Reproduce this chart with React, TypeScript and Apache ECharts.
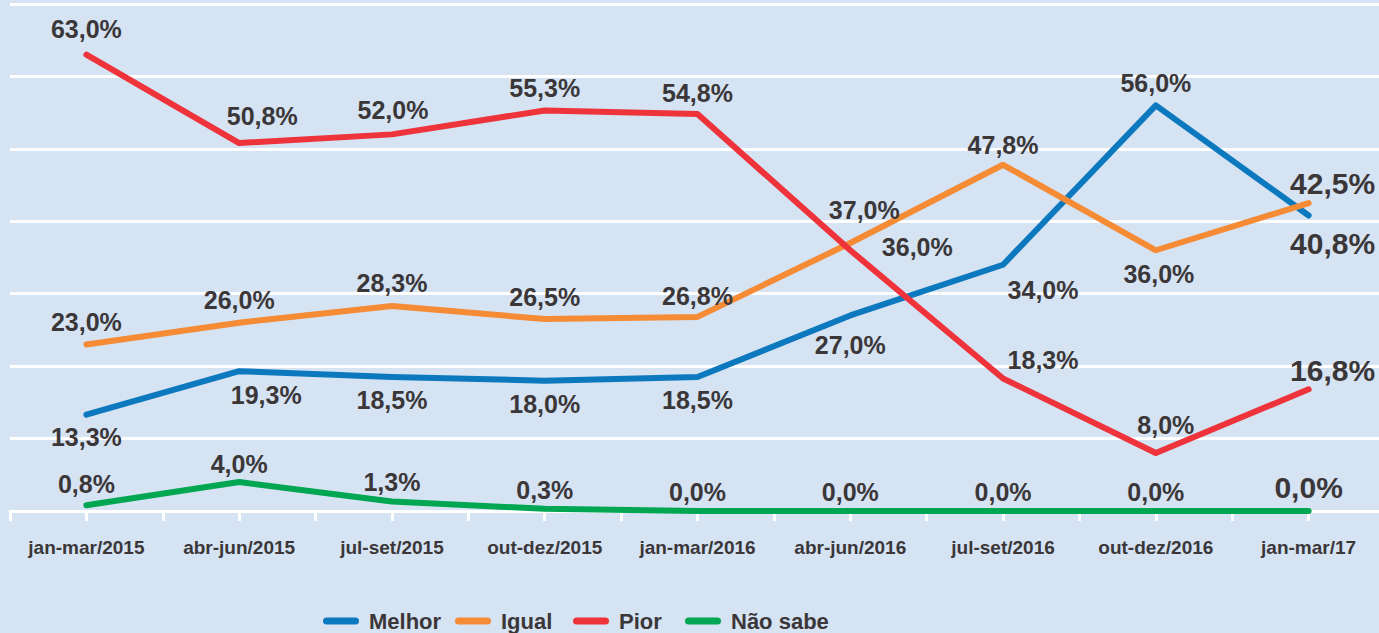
import React, { useEffect, useRef } from "react";
import * as echarts from "echarts";

const categories = [
  "jan-mar/2015", "abr-jun/2015", "jul-set/2015", "out-dez/2015", "jan-mar/2016",
  "abr-jun/2016", "jul-set/2016", "out-dez/2016", "jan-mar/17",
];
const melhor = [13.3, 19.3, 18.5, 18.0, 18.5, 27.0, 34.0, 56.0, 40.8];
const igual = [23.0, 26.0, 28.3, 26.5, 26.8, 37.0, 47.8, 36.0, 42.5];
const pior = [63.0, 50.8, 52.0, 55.3, 54.8, 36.0, 18.3, 8.0, 16.8];
const naoSabe = [0.8, 4.0, 1.3, 0.3, 0.0, 0.0, 0.0, 0.0, 0.0];

// label placement (pixel offsets from the point), kept apart from data
const melhorLabelOffsets = [[0, 22], [27, 24], [0, 23], [0, 23], [0, 23], [0, 30], [40, 25], [0, -22], [24, 28]];
const igualLabelOffsets = [[0, -22], [0, -23], [0, -23], [0, -22], [0, -21], [14, -33], [0, -20], [3, 24], [24, -20]];
const piorLabelOffsets = [[0, -26], [23, -27], [1, -24], [0, -22], [0, -21], [67, -3], [40, -18], [10, -28], [24, -19]];
const naoSabeLabelOffsets = [[0, -21], [0, -18], [0, -20], [0, -19], [0, -19], [0, -19], [0, -19], [0, -19], [0, -24]];

const FONT = '"Liberation Sans", Arial, sans-serif';
const TEXT = "#3b3739";
const BG = "#d5e3f3";

const seriesDefs = [
  { name: "Melhor", values: melhor, offsets: melhorLabelOffsets, color: "#0c78be" },
  { name: "Igual", values: igual, offsets: igualLabelOffsets, color: "#f68b35" },
  { name: "Pior", values: pior, offsets: piorLabelOffsets, color: "#ee333b" },
  { name: "Não sabe", values: naoSabe, offsets: naoSabeLabelOffsets, color: "#00a651" },
];
const legendLeft = [323, 455, 573, 685];

const fmt = (v: number) => v.toFixed(1).replace(".", ",") + "%";

export default function App() {
  const ref = useRef<HTMLDivElement>(null);
  useEffect(() => {
    if (!ref.current) return;
    const chart = echarts.init(ref.current, undefined, { renderer: "svg" });
    const last = categories.length - 1;
    chart.setOption({
      animation: false,
      backgroundColor: BG,
      grid: { left: 10, right: 5, top: 4, bottom: 122 },
      legend: seriesDefs.map((s, i) => ({
        data: [s.name],
        left: legendLeft[i],
        top: 610,
        padding: 0,
        itemWidth: 36,
        itemHeight: 7,
        icon: "path://M3.5,0 L32.5,0 A3.5,3.5 0 0 1 32.5,7 L3.5,7 A3.5,3.5 0 0 1 3.5,0 Z",
        textStyle: { color: TEXT, fontFamily: FONT, fontWeight: "bold", fontSize: 22, padding: [0, 0, 0, 5] },
      })),
      xAxis: [
        {
          type: "category",
          data: categories,
          boundaryGap: true,
          axisLine: { lineStyle: { color: "#ffffff", width: 3 } },
          axisTick: { show: true, length: 10, lineStyle: { color: "#ffffff", width: 3 } },
          axisLabel: { interval: 0, color: TEXT, fontFamily: FONT, fontWeight: "bold", fontSize: 19, margin: 27 },
          splitLine: { show: false },
        },
        {
          type: "category",
          data: categories,
          position: "bottom",
          boundaryGap: true,
          axisLine: { show: false },
          axisTick: { show: true, interval: 0, alignWithLabel: true, length: 10, lineStyle: { color: "#ffffff", width: 3 } },
          axisLabel: { show: false },
        },
      ],
      yAxis: {
        type: "value",
        min: 0,
        max: 70,
        interval: 10,
        axisLine: { show: false },
        axisTick: { show: false },
        axisLabel: { show: false },
        splitLine: { lineStyle: { color: "#ffffff", width: 3 } },
      },
      series: seriesDefs.map((s) => ({
        name: s.name,
        type: "line",
        xAxisIndex: 0,
        color: s.color,
        symbol: "circle",
        symbolSize: 1,
        itemStyle: { color: s.color },
        lineStyle: { color: s.color, width: 6, cap: "round", join: "round" },
        label: {
          show: true,
          position: "inside",
          color: TEXT,
          fontFamily: FONT,
          fontWeight: "bold",
          fontSize: 25,
          formatter: (p: any) => fmt(p.value),
        },
        data: s.values.map((v, i) => ({
          value: v,
          label: { offset: s.offsets[i], fontSize: i === last ? 30 : 25 },
        })),
      })),
    });
    return () => chart.dispose();
  }, []);
  return (
    <div
      ref={ref}
      style={{ position: "fixed", left: 0, top: 0, width: 1390, height: 633 }}
    />
  );
}
